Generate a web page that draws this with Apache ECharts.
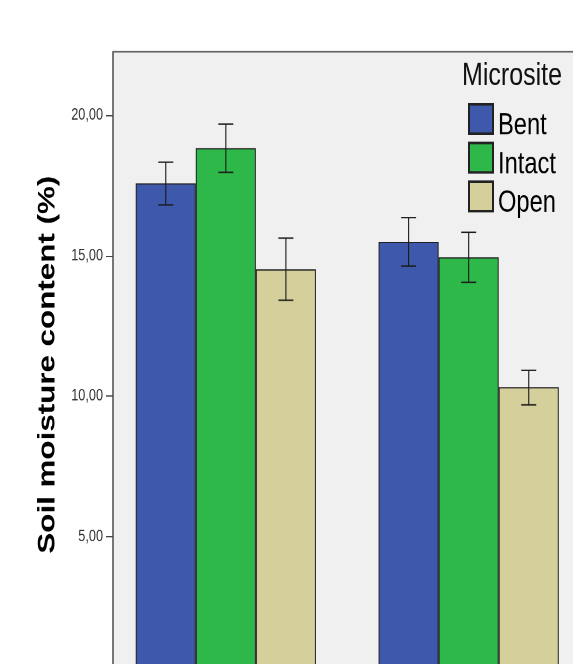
<!DOCTYPE html>
<html>
<head>
<meta charset="utf-8">
<script src="https://cdn.jsdelivr.net/npm/echarts@6/dist/echarts.min.js"></script>
<style>
html,body{margin:0;padding:0;background:#fff;overflow:hidden;}
#wrap{width:573px;height:664px;overflow:hidden;position:relative;}
#c{width:573px;height:519px;transform:scaleY(1.2794);transform-origin:0 0;}
</style>
</head>
<body>
<div id="wrap"><div id="c"></div></div>
<script>
// ---- data ----
var categories = ['Site 1', 'Site 2'];
var seriesNames = ['Bent', 'Intact', 'Open'];
var bentMean = [17.57, 15.49];
var bentLow = [16.80, 14.63];
var bentHigh = [18.32, 16.35];
var intactMean = [18.82, 14.94];
var intactLow = [17.96, 14.05];
var intactHigh = [19.68, 15.83];
var openMean = [14.51, 10.32];
var openLow = [13.41, 9.69];
var openHigh = [15.62, 10.92];
var yTicks = [0, 5, 10, 15, 20];
var yMin = 0, yMax = 22.24;
var legendTitle = 'Microsite';
var yTitle = 'Soil moisture content (%)';

var colors = ['#3e58ab', '#2fb84a', '#d4cf9b'];
var means = [bentMean, intactMean, openMean];
var lows = [bentLow, intactLow, openLow];
var highs = [bentHigh, intactHigh, openHigh];
var gapPct = 0.258;
var FONT = '"Liberation Sans", Arial, sans-serif';

var chart = echarts.init(document.getElementById('c'), null, {devicePixelRatio: 2});

var series = [];
seriesNames.forEach(function (name, i) {
  series.push({
    name: name, type: 'bar', xAxisIndex: 1, yAxisIndex: 1,
    barGap: '0%', barCategoryGap: (gapPct * 100) + '%',
    itemStyle: {color: colors[i], borderColor: '#222', borderWidth: 1},
    data: means[i], z: 2
  });
});
seriesNames.forEach(function (name, i) {
  var d = categories.map(function (c, k) { return [k, lows[i][k], highs[i][k]]; });
  series.push({
    type: 'custom', xAxisIndex: 1, yAxisIndex: 1, z: 5, silent: true,
    data: d,
    renderItem: function (params, api) {
      var k = api.value(0);
      var pLo = api.coord([k, api.value(1)]);
      var pHi = api.coord([k, api.value(2)]);
      var bw = api.size([1, 0])[0] * (1 - gapPct) / 3;
      var x = pLo[0] + (i - 1) * bw;
      var hw = 7.5;
      var st = {stroke: '#1a1a1a', lineWidth: 1.1};
      return {type: 'group', children: [
        {type: 'line', shape: {x1: x, y1: pLo[1], x2: x, y2: pHi[1]}, style: st},
        {type: 'line', shape: {x1: x - hw, y1: pLo[1], x2: x + hw, y2: pLo[1]}, style: st},
        {type: 'line', shape: {x1: x - hw, y1: pHi[1], x2: x + hw, y2: pHi[1]}, style: st}
      ]};
    }
  });
});

chart.setOption({
  animation: false,
  backgroundColor: '#fff',
  title: {
    text: legendTitle, left: 462, top: 47, padding: 0,
    textStyle: {fontFamily: FONT, fontSize: 25, fontWeight: 'normal', color: '#111'}
  },
  legend: {
    data: seriesNames, orient: 'vertical', left: 468, top: 80.5, padding: 0,
    icon: 'rect', itemWidth: 24, itemHeight: 23, itemGap: 0.25,
    formatter: '{t|{name}}',
    textStyle: {fontFamily: FONT, fontSize: 23.7, color: '#000',
      rich: {t: {fontFamily: FONT, fontSize: 23.7, color: '#000', padding: [11, 0, 0, 0]}}},
    selectedMode: false
  },
  grid: [
    {left: 113, top: 40.64, width: 480, height: 488.76, show: true, outerBoundsMode: 'none',
     backgroundColor: '#f0f0f0', borderWidth: 0, containLabel: false},
    {left: 104.4, top: 40.64, width: 485.7, height: 488.76, outerBoundsMode: 'none', containLabel: false}
  ],
  xAxis: [
    {type: 'value', gridIndex: 0, position: 'top', min: 0, max: 1,
     axisLine: {show: true, onZero: false, lineStyle: {color: '#666', width: 1.3}},
     axisTick: {show: false}, axisLabel: {show: false}, splitLine: {show: false}},
    {type: 'category', gridIndex: 1, data: categories, show: false}
  ],
  yAxis: [
    {type: 'value', gridIndex: 0, min: yMin, max: yMax, interval: 5,
     name: yTitle, nameLocation: 'middle', nameGap: 53, nameRotate: 90,
     nameTextStyle: {fontFamily: FONT, fontSize: 24.5, fontWeight: 'bold', color: '#000'},
     axisLine: {show: true, onZero: false, lineStyle: {color: '#555', width: 1.6}},
     axisTick: {show: true, length: 7, lineStyle: {color: '#444', width: 1}, customValues: yTicks},
     axisLabel: {fontFamily: FONT, fontSize: 12.7, color: '#333', margin: 10,
       customValues: yTicks,
       formatter: function (v) { return v.toFixed(2).replace('.', ','); }},
     splitLine: {show: false}},
    {type: 'value', gridIndex: 1, min: yMin, max: yMax, show: false, splitLine: {show: false}}
  ],
  series: series
});
</script>
</body>
</html>
